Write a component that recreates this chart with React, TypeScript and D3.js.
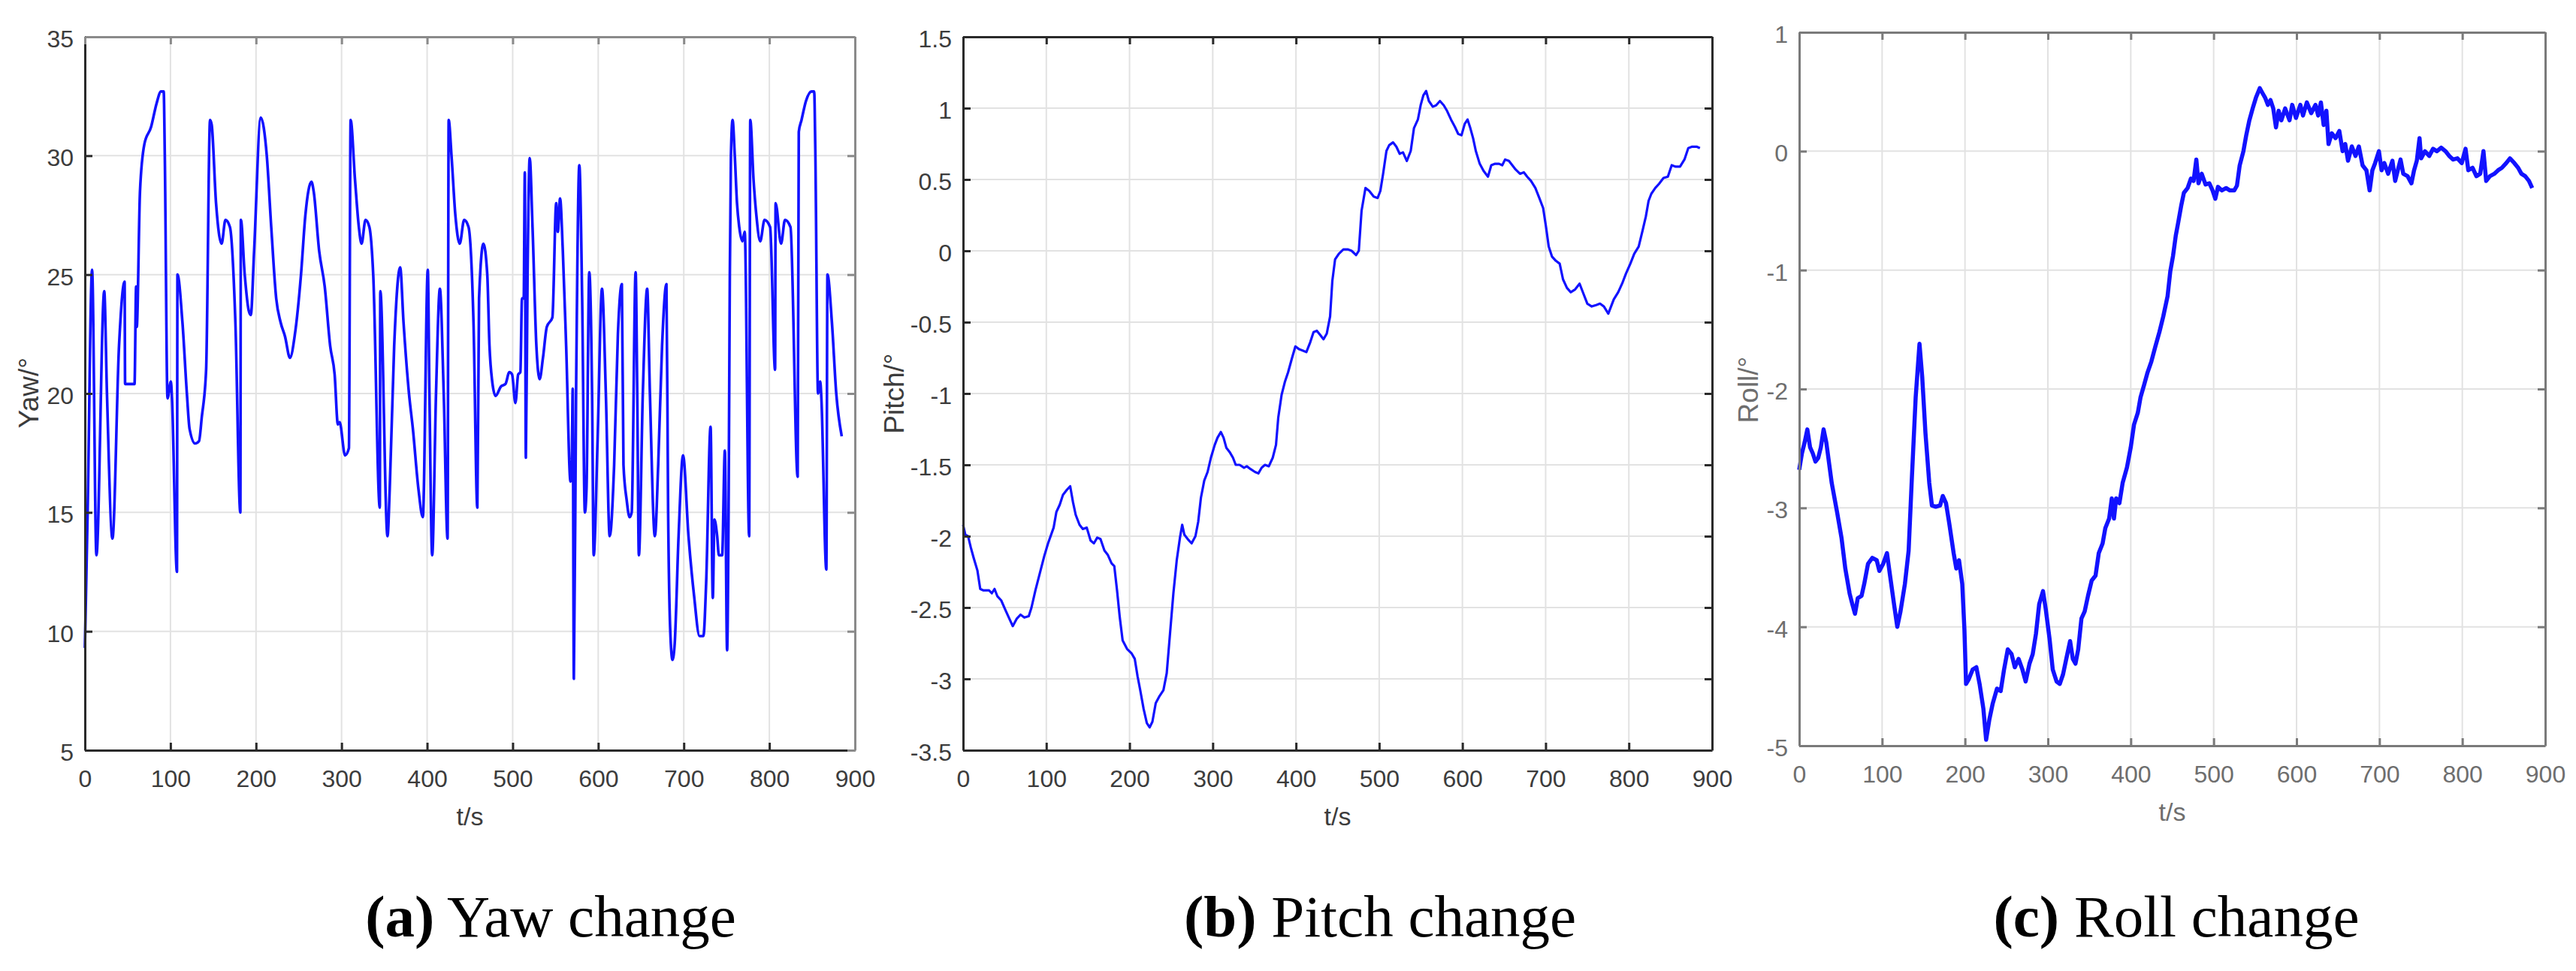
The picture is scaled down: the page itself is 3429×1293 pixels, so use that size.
import * as d3 from "d3";
import { useEffect, useRef } from "react";

// shared time axis
const xTicks = [0, 100, 200, 300, 400, 500, 600, 700, 800, 900];

// (a) yaw
const yawTime = [
  0, 3.2, 8.4, 13.5, 22.6, 25.8, 32.2, 39.9, 46.4, 47.0, 58.0, 59.9, 60.6, 64.4, 69.6, 77.3, 83.8, 88.9, 92.1, 93.4,
  96.6, 100.5, 101.8, 107.6, 108.2, 114.0, 119.2, 122.4, 128.9, 133.4, 136.6, 141.7, 146.3, 148.2, 153.3, 159.8,
  164.3, 169.5, 175.9, 181.7, 182.3, 186.8, 191.4, 193.9, 197.8, 205.5, 212.6, 217.8, 223.6, 228.7, 233.9, 239.7,
  245.5, 252.6, 257.7, 264.8, 267.4, 273.8, 280.3, 286.7, 291.9, 295.7, 297.7, 304.1, 308.6, 310.6, 315.7, 320.2,
  323.4, 328.0, 332.5, 337.0, 344.7, 345.3, 353.7, 356.3, 361.5, 368.5, 372.4, 378.8, 383.4, 389.8, 395.0, 400.8,
  402.7, 405.9, 410.4, 414.9, 419.4, 423.9, 425.2, 428.5, 433.0, 438.1, 443.3, 448.4, 454.2, 458.7, 460.7, 465.8,
  470.3, 472.9, 476.1, 480.0, 486.4, 491.6, 496.1, 499.3, 503.2, 506.4, 509.0, 510.9, 512.9, 514.2, 515.4, 517.4,
  519.9, 523.2, 527.7, 531.5, 535.4, 539.9, 546.4, 550.9, 552.8, 555.4, 558.6, 562.5, 567.6, 568.9, 570.2, 571.5,
  574.1, 577.9, 581.2, 584.4, 586.3, 589.5, 592.8, 594.7, 599.2, 604.4, 608.9, 613.4, 618.6, 623.0, 627.6, 629.5,
  633.3, 636.6, 639.1, 643.7, 645.6, 647.5, 652.1, 657.2, 660.4, 666.2, 670.1, 674.6, 679.7, 681.7, 684.2, 686.8,
  689.4, 693.9, 699.1, 705.5, 712.0, 718.4, 722.9, 726.1, 731.3, 733.9, 735.8, 739.0, 741.0, 744.8, 748.0, 750.6,
  752.5, 753.8, 755.1, 757.0, 759.6, 762.2, 764.8, 768.6, 771.2, 776.4, 777.7, 781.5, 784.8, 789.3, 794.4, 800.9,
  806.7, 807.3, 813.7, 818.3, 824.7, 833.1, 834.4, 837.6, 842.8, 849.2, 852.4, 853.7, 856.9, 859.5, 860.8, 866.6,
  867.9, 873.1, 878.2, 884.6,
];
const yawValues = [
  9.3, 15, 25.2, 13.2, 24.3, 20, 13.9, 22, 24.7, 20.4, 20.4, 24.5, 22.8, 28.5, 30.5, 31.2, 32.2, 32.7, 32.7, 30,
  19.8, 20.5, 19.8, 12.5, 25, 23, 20, 18.5, 17.9, 18, 19, 21, 31.5, 31.3, 28, 26.3,
  27.3, 27, 23, 15, 27.3, 25, 23.5, 23.3, 26, 31.6, 30, 27, 24, 23, 22.4, 21.5,
  22.5, 25, 27.5, 28.9, 28.5, 26, 24.5, 22, 20.8, 18.7, 18.8, 17.4, 17.7, 31.5, 29, 27,
  26.3, 27.3, 27, 25, 15.2, 24.3, 14, 16, 22, 25.3, 23, 20, 18.5, 16, 14.8, 25.2,
  20, 13.2, 20, 24.4, 20, 13.9, 31.5, 30, 27.5, 26.3, 27.3, 27, 23, 15.2, 24, 26.3,
  25, 22, 20.5, 19.9, 20.3, 20.4, 20.9, 20.8, 19.6, 20.8, 20.9, 24, 24, 29.3, 17.3, 25,
  29.9, 27, 22, 20.6, 21.5, 22.8, 23.2, 28, 26.8, 28.2, 26, 22, 16.3, 16.5, 20.2, 8,
  20, 29.6, 24, 15, 16, 25.1, 20, 13.2, 18, 24.4, 20, 14, 17, 22.5, 24.6, 17,
  15.5, 14.8, 15, 25.1, 20, 13.2, 20, 24.4, 20, 14, 17, 22, 24.6, 15, 10, 8.8,
  9.5, 14, 17.4, 14, 11.5, 9.8, 9.8, 12, 18.6, 11.4, 14.7, 14, 13.2, 13.2, 17.6, 9.2,
  16, 25, 30, 31.5, 30, 28, 27, 26.4, 26.8, 14, 31.5, 29, 27.5, 26.4, 27.3, 27,
  21, 28, 26.3, 27.3, 27, 16.5, 31, 31.5, 32.3, 32.7, 32.7, 30.3, 20, 20.5, 19.8, 12.6,
  25, 23, 20, 18.2,
];
const yawTicks = [5, 10, 15, 20, 25, 30, 35];

// (b) pitch
const pitchTime = [
  0, 2.7, 6.0, 9.3, 12.6, 17.2, 20.6, 24.5, 31.2, 34.5, 37.8, 41.1, 45.8, 51.1, 55.7, 59.7, 64.3, 69.0, 73.6, 78.9,
  82.2, 86.9, 92.2, 97.5, 102.1, 108.8, 112.1, 116.1, 120.0, 124.0, 128.7, 132.0, 135.3, 139.9, 143.9, 148.6, 153.2,
  157.2, 161.2, 165.1, 169.8, 173.8, 178.4, 181.7, 185.0, 188.3, 191.7, 197.0, 202.3, 206.3, 209.6, 212.9, 216.9,
  220.8, 224.2, 227.5, 231.5, 236.1, 240.7, 244.7, 248.7, 252.7, 256.7, 260.6, 263.3, 265.9, 269.9, 274.6, 279.2,
  282.5, 285.8, 289.8, 293.8, 297.8, 302.4, 305.7, 309.7, 313.0, 316.3, 320.3, 324.3, 327.6, 332.3, 337.6, 340.9,
  345.5, 350.8, 354.8, 358.8, 362.8, 367.4, 372.1, 376.0, 378.7, 382.7, 386.6, 390.6, 395.3, 399.3, 403.9, 408.5,
  412.5, 417.2, 421.1, 425.1, 429.1, 433.1, 437.0, 441.0, 443.7, 447.0, 451.6, 456.9, 462.2, 466.9, 472.2, 475.5,
  478.8, 483.5, 488.1, 493.4, 498.1, 501.4, 504.7, 508.7, 512.0, 516.6, 520.6, 524.6, 528.6, 533.2, 537.9, 541.8,
  546.5, 549.8, 553.1, 556.4, 559.7, 564.4, 568.4, 573.0, 577.6, 581.6, 586.3, 590.9, 594.9, 598.9, 602.8, 606.2,
  609.5, 612.8, 616.1, 620.8, 625.4, 630.7, 634.7, 639.3, 644.0, 647.9, 651.3, 655.9, 659.9, 663.9, 669.2, 673.8,
  677.8, 682.4, 687.7, 692.4, 697.0, 700.4, 703.7, 707.6, 712.3, 716.9, 720.9, 725.6, 730.2, 735.5, 740.8, 745.4,
  750.1, 755.4, 760.7, 765.3, 770.0, 775.3, 778.6, 781.9, 787.2, 791.9, 796.5, 801.8, 806.5, 811.8, 816.4, 820.4,
  823.7, 827.0, 831.7, 836.3, 841.6, 846.9, 851.5, 856.2, 861.5, 866.8, 871.4, 876.1, 881.4, 885.4,
];
const pitchValues = [
  -1.92, -1.99, -2.0, -2.08, -2.15, -2.24, -2.37, -2.38, -2.38, -2.4, -2.37, -2.42, -2.45, -2.52, -2.58, -2.63, -2.58,
  -2.55, -2.57, -2.56, -2.5, -2.38, -2.26, -2.14, -2.05, -1.94, -1.83, -1.78, -1.71, -1.68, -1.65, -1.76, -1.85, -1.92,
  -1.95, -1.94, -2.03, -2.05, -2.01, -2.02, -2.1, -2.13, -2.19, -2.21, -2.38, -2.57, -2.73, -2.79, -2.82, -2.86, -2.98,
  -3.08, -3.21, -3.31, -3.34, -3.3, -3.17, -3.12, -3.08, -2.96, -2.68, -2.4, -2.17, -2.01, -1.92, -1.99, -2.02, -2.05,
  -2.0, -1.9, -1.73, -1.61, -1.55, -1.45, -1.36, -1.31, -1.27, -1.31, -1.38, -1.41, -1.45, -1.5, -1.5, -1.52, -1.51,
  -1.53, -1.55, -1.56, -1.52, -1.5, -1.51, -1.45, -1.36, -1.17, -1.01, -0.92, -0.85, -0.75, -0.67, -0.69, -0.7, -0.71,
  -0.64, -0.57, -0.56, -0.59, -0.62, -0.58, -0.46, -0.21, -0.06, -0.02, 0.01, 0.01, 0.0, -0.03, 0.0, 0.28, 0.44, 0.42,
  0.38, 0.37, 0.42, 0.54, 0.7, 0.74, 0.76, 0.73, 0.68, 0.69, 0.63, 0.7, 0.86, 0.92, 1.02, 1.09, 1.12, 1.05, 1.01, 1.02,
  1.05, 1.02, 0.98, 0.92, 0.87, 0.82, 0.81, 0.89, 0.92, 0.86, 0.79, 0.7, 0.61, 0.56, 0.52, 0.6, 0.61, 0.61, 0.6, 0.64,
  0.63, 0.6, 0.57, 0.54, 0.55, 0.52, 0.49, 0.44, 0.37, 0.3, 0.17, 0.03, -0.04, -0.07, -0.09, -0.2, -0.26, -0.29, -0.27,
  -0.23, -0.3, -0.37, -0.39, -0.38, -0.37, -0.39, -0.44, -0.39, -0.34, -0.29, -0.23, -0.16, -0.09, -0.02, 0.03, 0.14,
  0.24, 0.35, 0.4, 0.44, 0.47, 0.51, 0.52, 0.6, 0.59, 0.59, 0.64, 0.72, 0.73, 0.73, 0.72,
];
const pitchTicks = [-3.5, -3, -2.5, -2, -1.5, -1, -0.5, 0, 0.5, 1, 1.5];

// (c) roll
const rollTime = [
  0, 3.3, 6.5, 9.8, 13.1, 16.3, 19.6, 22.9, 26.1, 29.4, 32.7, 39.2, 45.8, 51.0, 55.6, 60.8, 64.1, 67.3, 70.6, 75.2,
  78.4, 83.0, 88.2, 93.5, 96.7, 101.3, 105.9, 109.2, 114.4, 118.3, 122.2, 127.5, 132.0, 135.9, 140.5, 145.1, 148.4,
  152.3, 156.9, 160.1, 164.7, 169.9, 173.2, 177.1, 181.0, 186.3, 189.5, 192.8, 196.7, 199.3, 201.3, 204.6, 209.2,
  213.7, 217.6, 222.2, 225.5, 229.4, 233.3, 238.6, 243.1, 247.1, 251.6, 256.2, 260.1, 264.7, 269.3, 273.2, 277.8,
  281.7, 285.6, 289.5, 294.1, 297.4, 302.0, 305.9, 310.5, 314.4, 318.3, 322.2, 326.8, 330.1, 333.3, 336.6, 340.5,
  344.4, 348.4, 352.9, 357.5, 361.4, 366.0, 369.3, 373.9, 377.1, 379.7, 382.4, 386.3, 390.2, 395.4, 400.0, 403.9,
  408.5, 411.8, 416.3, 420.3, 424.8, 429.4, 434.6, 439.2, 444.4, 447.7, 451.0, 454.3, 457.5, 460.8, 464.1, 468.6,
  472.6, 475.8, 479.1, 481.7, 485.6, 490.2, 494.8, 498.7, 502.0, 505.2, 509.8, 515.0, 519.6, 524.8, 528.1, 531.4,
  535.9, 539.2, 543.1, 547.1, 551.0, 555.6, 558.8, 562.1, 565.4, 568.6, 571.9, 575.2, 578.4, 581.7, 586.3, 591.5,
  594.8, 599.3, 604.6, 607.8, 612.4, 617.7, 622.9, 626.1, 629.4, 632.7, 636.0, 638.6, 642.5, 647.1, 651.6, 655.6,
  658.8, 662.1, 666.7, 671.2, 675.2, 679.7, 684.3, 688.2, 691.5, 694.8, 699.4, 702.6, 705.9, 710.5, 715.7, 719.0,
  722.2, 725.5, 728.8, 734.0, 738.6, 741.8, 745.1, 748.4, 750.3, 754.9, 760.1, 764.7, 769.3, 774.5, 779.7, 784.3,
  788.9, 794.1, 799.3, 803.9, 807.2, 812.4, 817.0, 821.6, 825.5, 828.8, 833.3, 838.6, 843.2, 847.7, 853.0, 857.5,
  862.8, 867.4, 871.3, 875.9, 880.4, 884.3,
];
const rollValues = [
  -2.68, -2.54, -2.45, -2.34, -2.49, -2.54, -2.61, -2.58, -2.49, -2.34, -2.45, -2.79, -3.04, -3.25, -3.51, -3.72,
  -3.81, -3.89, -3.76, -3.74, -3.64, -3.47, -3.42, -3.44, -3.53, -3.47, -3.38, -3.55, -3.81, -4.0, -3.87, -3.64,
  -3.36, -2.75, -2.07, -1.62, -1.9, -2.37, -2.79, -2.98, -2.99, -2.98, -2.9, -2.96, -3.13, -3.38, -3.51, -3.44,
  -3.64, -4.02, -4.48, -4.44, -4.36, -4.34, -4.48, -4.69, -4.95, -4.78, -4.65, -4.52, -4.54, -4.36, -4.19, -4.23,
  -4.34, -4.27, -4.36, -4.46, -4.31, -4.23, -4.06, -3.81, -3.7, -3.85, -4.1, -4.36, -4.46, -4.48, -4.4, -4.27, -4.12,
  -4.27, -4.31, -4.19, -3.93, -3.87, -3.74, -3.61, -3.57, -3.38, -3.3, -3.17, -3.09, -2.92, -3.09, -2.92, -2.96,
  -2.79, -2.66, -2.49, -2.3, -2.2, -2.07, -1.96, -1.86, -1.77, -1.65, -1.52, -1.39, -1.22, -1.01, -0.88, -0.71, -0.59,
  -0.46, -0.35, -0.31, -0.23, -0.25, -0.07, -0.27, -0.19, -0.28, -0.27, -0.33, -0.4, -0.3, -0.33, -0.31, -0.33, -0.33,
  -0.29, -0.12, 0.0, 0.13, 0.26, 0.36, 0.45, 0.53, 0.49, 0.45, 0.39, 0.43, 0.36, 0.2, 0.34, 0.26, 0.36, 0.26, 0.39,
  0.28, 0.39, 0.3, 0.41, 0.32, 0.39, 0.3, 0.41, 0.22, 0.34, 0.06, 0.15, 0.11, 0.17, 0.0, 0.06, -0.08, 0.04, -0.04,
  0.04, -0.12, -0.16, -0.33, -0.16, -0.1, 0.0, -0.16, -0.1, -0.19, -0.08, -0.25, -0.16, -0.07, -0.19, -0.21, -0.27,
  -0.16, -0.08, 0.11, -0.06, 0.0, -0.04, 0.02, 0.0, 0.03, 0.0, -0.04, -0.07, -0.06, -0.1, 0.02, -0.16, -0.14, -0.21,
  -0.19, 0.0, -0.25, -0.21, -0.19, -0.16, -0.14, -0.1, -0.06, -0.1, -0.14, -0.19, -0.21, -0.25, -0.31,
];
const rollTicks = [-5, -4, -3, -2, -1, 0, 1];

const axisTitles = ["Yaw/°", "Pitch/°", "Roll/°"];
const captionTags = ["(a)", "(b)", "(c)"];
const captionTexts = ["Yaw change", "Pitch change", "Roll change"];

const sans = "'Liberation Sans', Arial, sans-serif";
const serif = "'Liberation Serif', 'Times New Roman', serif";

type Panel = {
  t: number[];
  v: number[];
  ticks: number[];
  title: string;
  left: number;
  right: number;
  top: number;
  bottom: number;
  titleX: number;
  titleY: number;
  xTitleY: number;
  captionX: number;
  ink: string;
  box: string;
  lineWidth: number;
  curve: d3.CurveFactory;
};

const panels: Panel[] = [
  {
    t: yawTime, v: yawValues, ticks: yawTicks, title: axisTitles[0],
    left: 113, right: 1138, top: 49, bottom: 999, titleX: 51, titleY: 523, xTitleY: 1099, captionX: 733,
    ink: "#3c3c3c", box: "#8a8a8a", lineWidth: 3.6, curve: d3.curveMonotoneX,
  },
  {
    t: pitchTime, v: pitchValues, ticks: pitchTicks, title: axisTitles[1],
    left: 1282, right: 2279, top: 49, bottom: 999, titleX: 1203, titleY: 524, xTitleY: 1099, captionX: 1837,
    ink: "#3c3c3c", box: "#2a2a2a", lineWidth: 3.2, curve: d3.curveLinear,
  },
  {
    t: rollTime, v: rollValues, ticks: rollTicks, title: axisTitles[2],
    left: 2395, right: 3388, top: 43, bottom: 993, titleX: 2340, titleY: 519, xTitleY: 1093, captionX: 2897,
    ink: "#6e6e6e", box: "#7a7a7a", lineWidth: 5.5, curve: d3.curveLinear,
  },
];

function drawPanel(svg: d3.Selection<SVGSVGElement, unknown, null, undefined>, p: Panel, i: number) {
  const x = d3.scaleLinear().domain([0, 900]).range([p.left, p.right]);
  const y = d3
    .scaleLinear()
    .domain([p.ticks[0], p.ticks[p.ticks.length - 1]])
    .range([p.bottom, p.top]);

  const g = svg.append("g");

  // grid
  g.append("g")
    .selectAll("line")
    .data(xTicks.slice(1, -1))
    .join("line")
    .attr("x1", (d) => x(d))
    .attr("x2", (d) => x(d))
    .attr("y1", p.top)
    .attr("y2", p.bottom)
    .attr("stroke", "#e2e2e2")
    .attr("stroke-width", 2);
  g.append("g")
    .selectAll("line")
    .data(p.ticks.slice(1, -1))
    .join("line")
    .attr("x1", p.left)
    .attr("x2", p.right)
    .attr("y1", (d) => y(d))
    .attr("y2", (d) => y(d))
    .attr("stroke", "#e2e2e2")
    .attr("stroke-width", 2);

  const pts = p.t.map((t, k) => [t, p.v[k]] as [number, number]);
  const line = d3
    .line<[number, number]>()
    .x((d) => x(d[0]))
    .y((d) => y(d[1]))
    .curve(p.curve);

  g.append("path")
    .datum(pts)
    .attr("fill", "none")
    .attr("stroke", "#1212ff")
    .attr("stroke-width", p.lineWidth)
    .attr("stroke-linejoin", "round")
    .attr("d", line);

  const fmt = (v: d3.NumberValue) => String(+v);

  const bottomAxis = g
    .append("g")
    .attr("transform", `translate(0,${p.bottom})`)
    .call(d3.axisBottom(x).tickValues(xTicks).tickSizeInner(-10).tickSizeOuter(0).tickPadding(26).tickFormat(fmt));
  const leftAxis = g
    .append("g")
    .attr("transform", `translate(${p.left},0)`)
    .call(d3.axisLeft(y).tickValues(p.ticks).tickSizeInner(-10).tickSizeOuter(0).tickPadding(15).tickFormat(fmt));
  const topAxis = g
    .append("g")
    .attr("transform", `translate(0,${p.top})`)
    .call(d3.axisTop(x).tickValues(xTicks).tickSizeInner(-10).tickSizeOuter(0).tickFormat(() => ""));
  const rightAxis = g
    .append("g")
    .attr("transform", `translate(${p.right},0)`)
    .call(d3.axisRight(y).tickValues(p.ticks).tickSizeInner(-10).tickSizeOuter(0).tickFormat(() => ""));

  [bottomAxis, leftAxis].forEach((a) => {
    a.attr("color", "#2a2a2a").attr("font-family", sans).attr("font-size", 32);
    a.selectAll("path, line").attr("stroke-width", 3);
    a.selectAll("text").attr("fill", p.ink);
  });
  leftAxis.selectAll("text").attr("dy", "0.42em");
  [topAxis, rightAxis].forEach((a) => {
    a.attr("color", p.box);
    a.selectAll("path, line").attr("stroke-width", 3);
  });
  if (i === 2) {
    bottomAxis.attr("color", p.box);
    leftAxis.attr("color", p.box);
  }

  // axis titles
  g.append("text")
    .attr("transform", `translate(${p.titleX},${p.titleY}) rotate(-90)`)
    .attr("text-anchor", "middle")
    .attr("font-family", sans)
    .attr("font-size", 37)
    .attr("fill", p.ink)
    .text(p.title);
  g.append("text")
    .attr("x", (p.left + p.right) / 2)
    .attr("y", p.xTitleY)
    .attr("text-anchor", "middle")
    .attr("font-family", sans)
    .attr("font-size", 34)
    .attr("fill", p.ink)
    .text("t/s");

  // caption under the panel
  const cap = svg
    .append("text")
    .attr("x", p.captionX)
    .attr("y", 1247)
    .attr("text-anchor", "middle")
    .attr("font-family", serif)
    .attr("font-size", 79)
    .attr("fill", "#000");
  cap.append("tspan").attr("font-weight", "bold").text(captionTags[i]);
  cap.append("tspan").text(" " + captionTexts[i]);
}

export default function App() {
  const ref = useRef<SVGSVGElement | null>(null);

  useEffect(() => {
    document.body.style.margin = "0";
    if (!ref.current) return;
    const svg = d3.select(ref.current);
    svg.selectAll("*").remove();
    svg.append("rect").attr("width", 3429).attr("height", 1293).attr("fill", "#fff");
    panels.forEach((p, i) => drawPanel(svg, p, i));
  }, []);

  return <svg ref={ref} width={3429} height={1293} style={{ display: "block" }} />;
}
